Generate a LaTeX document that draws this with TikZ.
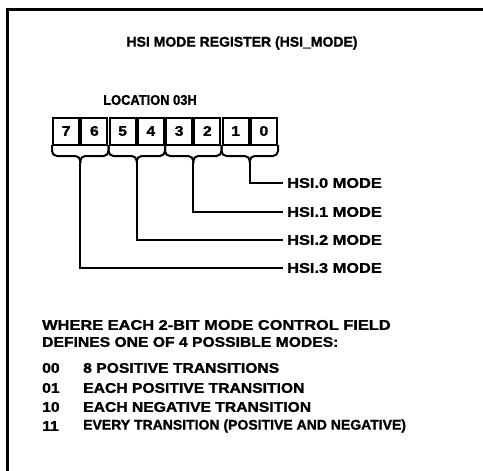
\documentclass[tikz,border=0pt]{standalone}
\usepackage{fontspec}
\setmainfont{Liberation Sans}[FakeStretch=1.12, FakeBold=1.3]
\newfontfamily\widefont{Liberation Sans}[FakeStretch=1.17, FakeBold=1.3]
\newfontfamily\narrowfont{Liberation Sans}[FakeStretch=1.0, FakeBold=1.3]
\newfontfamily\tightfont{Liberation Sans}[FakeStretch=0.92, FakeBold=1.3]
\usepackage{tikz}
\usetikzlibrary{positioning}

\begin{document}
\begin{tikzpicture}[
  x=1pt, y=-1pt,
  txt/.style={inner sep=0pt, font=\fontsize{14}{16}\selectfont\bfseries#1},
  txt/.default={},
  cellbox/.style={draw, line width=2pt, minimum width=26pt, minimum height=27pt, inner sep=0pt, font=\fontsize{14}{16}\selectfont\bfseries},
  wire/.style={draw, line width=2.4pt},
  brace/.style={draw, line width=2pt, rounded corners=5pt},
  frame/.style={draw, line width=3pt},
]
\def\regleft{52}      % left edge of register
\def\cellw{28.25}     % cell pitch
\def\cellmid{131}     % cell centre line
\def\regbot{145}      % bottom of cells
\def\bracey{156}      % horizontal run of braces
\def\tipy{163}        % brace tips
\def\wireend{283}     % where leader lines stop

\useasboundingbox (0,0) rectangle (483,471);
\draw[frame] (7,471) -- (7,9) -- (483,9);

\node[txt=\narrowfont\bfseries] (title) at (242,43) {HSI MODE REGISTER (HSI\_MODE)};
\node[txt=\tightfont\bfseries] (loc) at (150,100) {LOCATION 03H};

% register cells, bit 7 on the left
\foreach \b in {7,...,0}
  \node[cellbox] (c\b) at ({\regleft+\cellw*(7-\b)+\cellw/2},\cellmid) {\b};

% braces over each 2-bit field
\foreach \f in {0,...,3} {
  \pgfmathsetmacro{\xa}{\regleft+\cellw*(6-2*\f)}
  \pgfmathsetmacro{\xb}{\xa+2*\cellw}
  \pgfmathsetmacro{\xm}{\xa+\cellw}
  \coordinate (tip\f) at (\xm,\tipy);
  \draw[brace] (\xa,\regbot) -- (\xa,\bracey) -- (\xm,\bracey) -- (tip\f);
  \draw[brace] (tip\f) -- (\xm,\bracey) -- (\xb,\bracey) -- (\xb,\regbot);
}

% field labels
\node[txt=\widefont\bfseries, anchor=west, inner xsep=4pt] (m0) at (\wireend,183) {HSI.0 MODE};
\node[txt=\widefont\bfseries, anchor=west, inner xsep=4pt] (m1) at (\wireend,212) {HSI.1 MODE};
\node[txt=\widefont\bfseries, anchor=west, inner xsep=4pt] (m2) at (\wireend,240) {HSI.2 MODE};
\node[txt=\widefont\bfseries, anchor=west, inner xsep=4pt] (m3) at (\wireend,268) {HSI.3 MODE};

\foreach \f in {0,...,3}
  \draw[wire] (tip\f) |- (m\f.west);

% mode table
\node[txt=\widefont\bfseries, anchor=west] (where) at (42,325) {WHERE EACH 2-BIT MODE CONTROL FIELD};
\node[txt, anchor=west] (defs) at (42,342) {DEFINES ONE OF 4 POSSIBLE MODES:};

\node[txt, anchor=west] (k00) at (42,368) {00};
\node[txt, anchor=west] (k01) at (42,388) {01};
\node[txt, anchor=west] (k10) at (42,407) {10};
\node[txt, anchor=west] (k11) at (42,426) {11};
\node[txt, anchor=west] (d00) at (83,368) {8 POSITIVE TRANSITIONS};
\node[txt, anchor=west] (d01) at (83,388) {EACH POSITIVE TRANSITION};
\node[txt, anchor=west] (d10) at (83,407) {EACH NEGATIVE TRANSITION};
\node[txt=\narrowfont\bfseries, anchor=west] (d11) at (83,426) {EVERY TRANSITION (POSITIVE AND NEGATIVE)};
\end{tikzpicture}
\end{document}
